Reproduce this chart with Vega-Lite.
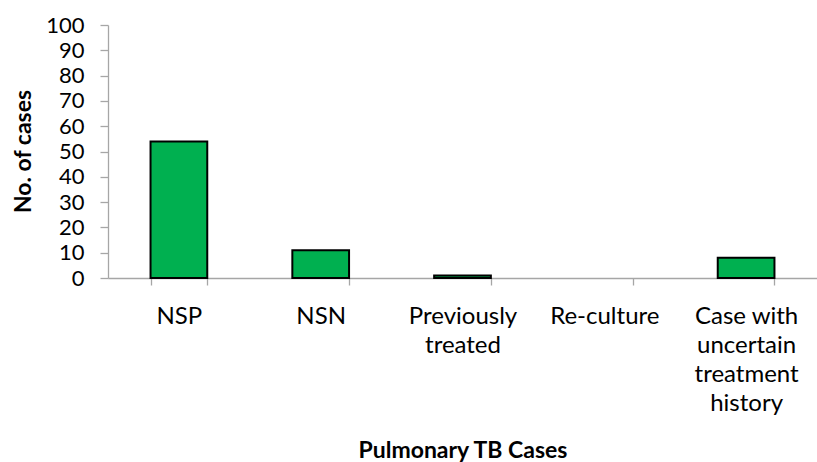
{
  "$schema": "https://vega.github.io/schema/vega-lite/v6.json",
  "width": 709,
  "height": 253,
  "autosize": {"type": "none"},
  "padding": {"left": 108, "top": 25, "right": 0, "bottom": 184},
  "background": "white",
  "data": {
    "values": [
      {"category": "NSP", "cases": 54},
      {"category": "NSN", "cases": 11},
      {"category": "Previously|treated", "cases": 1},
      {"category": "Re-culture", "cases": 0},
      {"category": "Case with|uncertain|treatment|history", "cases": 8}
    ]
  },
  "config": {
    "view": {"stroke": null},
    "font": "Lato",
    "axis": {"labelFont": "Lato", "titleFont": "Lato", "labelColor": "#000", "titleColor": "#000", "domainColor": "#a6a6a6", "tickColor": "#a6a6a6", "domainWidth": 1.3, "tickWidth": 1.3}
  },
  "mark": {"type": "bar", "color": "#00B050", "stroke": "#000", "strokeWidth": 2},
  "encoding": {
    "strokeOpacity": {"condition": {"test": "datum.cases == 0", "value": 0}, "value": 1},
    "x": {
      "field": "category",
      "type": "nominal",
      "sort": null,
      "scale": {"paddingInner": 0.6, "paddingOuter": 0.3},
      "axis": {
        "title": "Pulmonary TB Cases",
        "titleFontSize": 23,
        "titleFontWeight": "bold",
        "titleY": 172,
        "titleBaseline": "middle",
        "labelAngle": 0,
        "labelFontSize": 24,
        "labelExpr": "split(datum.label, '|')",
        "labelLineHeight": 29,
        "labelPadding": 19,
        "labelBaseline": "top",
        "tickBand": "extent",
        "tickSize": 7,
        "labelLimit": 300
      }
    },
    "y": {
      "field": "cases",
      "type": "quantitative",
      "scale": {"domain": [0, 100], "nice": false},
      "axis": {
        "title": "No. of cases",
        "titleFontSize": 23,
        "titleFontWeight": "bold",
        "titleX": -85,
        "titleY": 126,
        "titleBaseline": "middle",
        "titleAngle": -90,
        "values": [0, 10, 20, 30, 40, 50, 60, 70, 80, 90, 100],
        "labelFontSize": 22,
        "labelPadding": 16,
        "tickSize": 8,
        "grid": false
      }
    }
  }
}
